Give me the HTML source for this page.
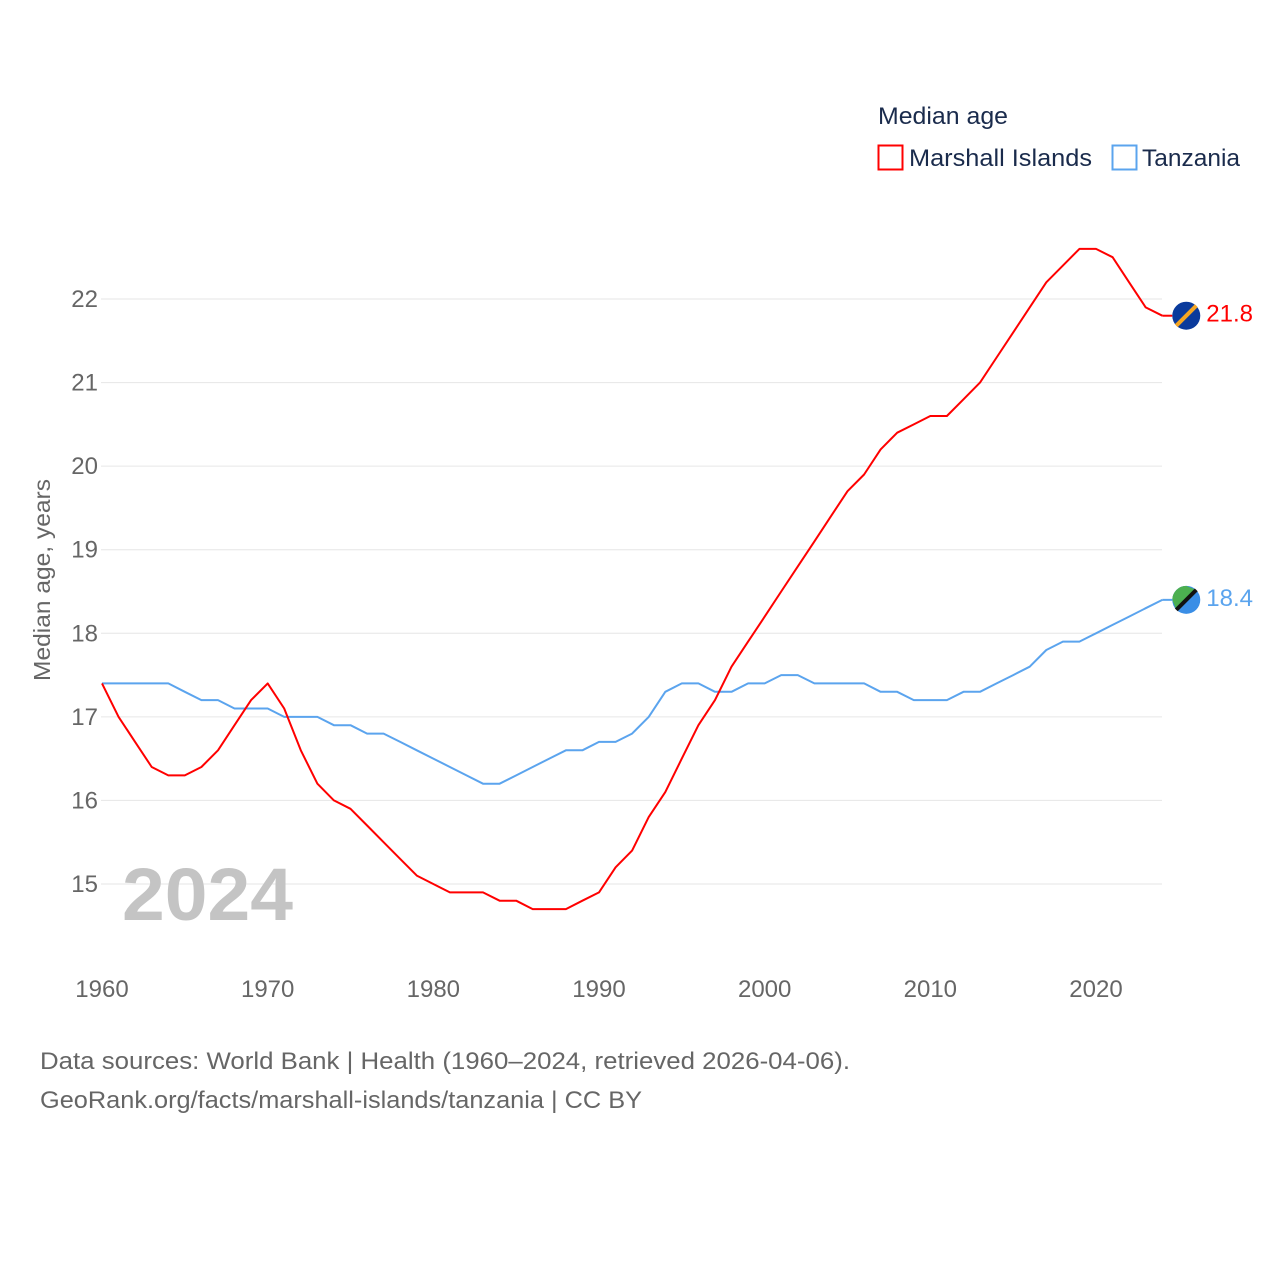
<!DOCTYPE html>
<html><head><meta charset="utf-8">
<style>
html,body{margin:0;padding:0;background:#fff;}
body{width:1280px;height:1280px;overflow:hidden;font-family:"Liberation Sans",sans-serif;}
svg text{font-family:"Liberation Sans",sans-serif;}
</style></head>
<body>
<svg id="chart" width="1280" height="1280" xmlns="http://www.w3.org/2000/svg">
  <g id="grid"></g>
  <g id="yticks"></g>
  <g id="xticks"></g>
  <text x="50" y="580" transform="rotate(-90 50 580)" text-anchor="middle" font-size="23" fill="#666" textLength="202" lengthAdjust="spacingAndGlyphs">Median age, years</text>
  <text x="122" y="920" font-size="74" font-weight="bold" fill="#c4c4c4" textLength="171" lengthAdjust="spacingAndGlyphs">2024</text>
  <g id="series"></g>
  <g>
    <text x="878" y="124" font-size="24" fill="#1a2b4c" textLength="130" lengthAdjust="spacingAndGlyphs">Median age</text>
    <rect x="878.5" y="145.5" width="24" height="24" fill="none" stroke="#f00" stroke-width="2"/>
    <text x="909" y="166" font-size="24" fill="#1a2b4c" textLength="183" lengthAdjust="spacingAndGlyphs">Marshall Islands</text>
    <rect x="1112.5" y="145.5" width="24" height="24" fill="none" stroke="#5ba4ee" stroke-width="2"/>
    <text x="1142" y="166" font-size="24" fill="#1a2b4c" textLength="98" lengthAdjust="spacingAndGlyphs">Tanzania</text>
  </g>
  <text x="40" y="1069" font-size="24" fill="#666" textLength="810" lengthAdjust="spacingAndGlyphs">Data sources: World Bank | Health (1960–2024, retrieved 2026-04-06).</text>
  <text x="40" y="1108" font-size="24" fill="#666" textLength="602" lengthAdjust="spacingAndGlyphs">GeoRank.org/facts/marshall-islands/tanzania | CC BY</text>
</svg>
<script>
const years = [];
for (let y = 1960; y <= 2024; y++) years.push(y);
const marshallValues = [17.4,17.0,16.7,16.4,16.3,16.3,16.4,16.6,16.9,17.2,17.4,17.1,16.6,16.2,16.0,15.9,15.7,15.5,15.3,15.1,15.0,14.9,14.9,14.9,14.8,14.8,14.7,14.7,14.7,14.8,14.9,15.2,15.4,15.8,16.1,16.5,16.9,17.2,17.6,17.9,18.2,18.5,18.8,19.1,19.4,19.7,19.9,20.2,20.4,20.5,20.6,20.6,20.8,21.0,21.3,21.6,21.9,22.2,22.4,22.6,22.6,22.5,22.2,21.9,21.8];
const tanzaniaValues = [17.4,17.4,17.4,17.4,17.4,17.3,17.2,17.2,17.1,17.1,17.1,17.0,17.0,17.0,16.9,16.9,16.8,16.8,16.7,16.6,16.5,16.4,16.3,16.2,16.2,16.3,16.4,16.5,16.6,16.6,16.7,16.7,16.8,17.0,17.3,17.4,17.4,17.3,17.3,17.4,17.4,17.5,17.5,17.4,17.4,17.4,17.4,17.3,17.3,17.2,17.2,17.2,17.3,17.3,17.4,17.5,17.6,17.8,17.9,17.9,18.0,18.1,18.2,18.3,18.4];
const yTicks = [15,16,17,18,19,20,21,22];
const xTicks = [1960,1970,1980,1990,2000,2010,2020];

const NS = "http://www.w3.org/2000/svg";
function xs(year){ return 102 + (year - 1960) * (1096 - 102) / 60; }
function ys(v){ return 884 - (v - 15) * (884 - 299) / 7; }
function mk(tag, attrs, parent){ const e = document.createElementNS(NS, tag); for (const k in attrs) e.setAttribute(k, attrs[k]); parent.appendChild(e); return e; }

const grid = document.getElementById('grid'), yg = document.getElementById('yticks'), xg = document.getElementById('xticks'), sg = document.getElementById('series');
yTicks.forEach(t => {
  const l = mk('line', {x1:101, x2:1162, y1:ys(t), y2:ys(t), stroke:'#e6e6e6', 'stroke-width':1}, grid);
  
  
  const tx = mk('text', {x:98, y:ys(t)+8, 'text-anchor':'end', 'font-size':24, fill:'#666'}, yg);
  tx.textContent = t;
  
  
});
xTicks.forEach(t => {
  const tx = mk('text', {x:xs(t), y:997, 'text-anchor':'middle', 'font-size':24, fill:'#666'}, xg);
  tx.textContent = t;
  
  
});
function drawLine(vals, color, name){
  const d = vals.map((v,i) => (i ? 'L' : 'M') + xs(years[i]).toFixed(1) + ' ' + ys(v).toFixed(1)).join(' ');
  const p = mk('path', {d:d, fill:'none', stroke:color, 'stroke-width':2, 'stroke-linejoin':'round'}, sg);
  
  
  const last = vals[vals.length-1], lx = xs(years[years.length-1]), ly = ys(last);
  const c = mk('circle', {cx:lx+24, cy:ly, r:14, fill: name === 'marshall' ? '#0a3a9c' : '#3a8ee6'}, sg);
  
  
  const s = mk('line', {x1:lx+14, y1:ly+10, x2:lx+34, y2:ly-10, stroke: name === 'marshall' ? '#f5a623' : '#111', 'stroke-width':4}, sg);
  
  
  if (name === 'tanzania') {
    const g = mk('path', {d:`M${lx+10} ${ly} A14 14 0 0 1 ${lx+24} ${ly-14} L${lx+34} ${ly-10} L${lx+14} ${ly+10} Z`, fill:'#4caf50'}, sg);
    
    
    sg.appendChild(s);
  }
  mk('line', {x1:lx, y1:ly, x2:lx+10, y2:ly, stroke:color, 'stroke-width':2}, sg);
  const t = mk('text', {x:lx+44, y:ly+6, 'font-size':24, fill:color}, sg);
  t.textContent = last.toFixed(1);
  
  
}
drawLine(tanzaniaValues, '#5ba4ee', 'tanzania');
drawLine(marshallValues, '#f00', 'marshall');
</script>
</body></html>
